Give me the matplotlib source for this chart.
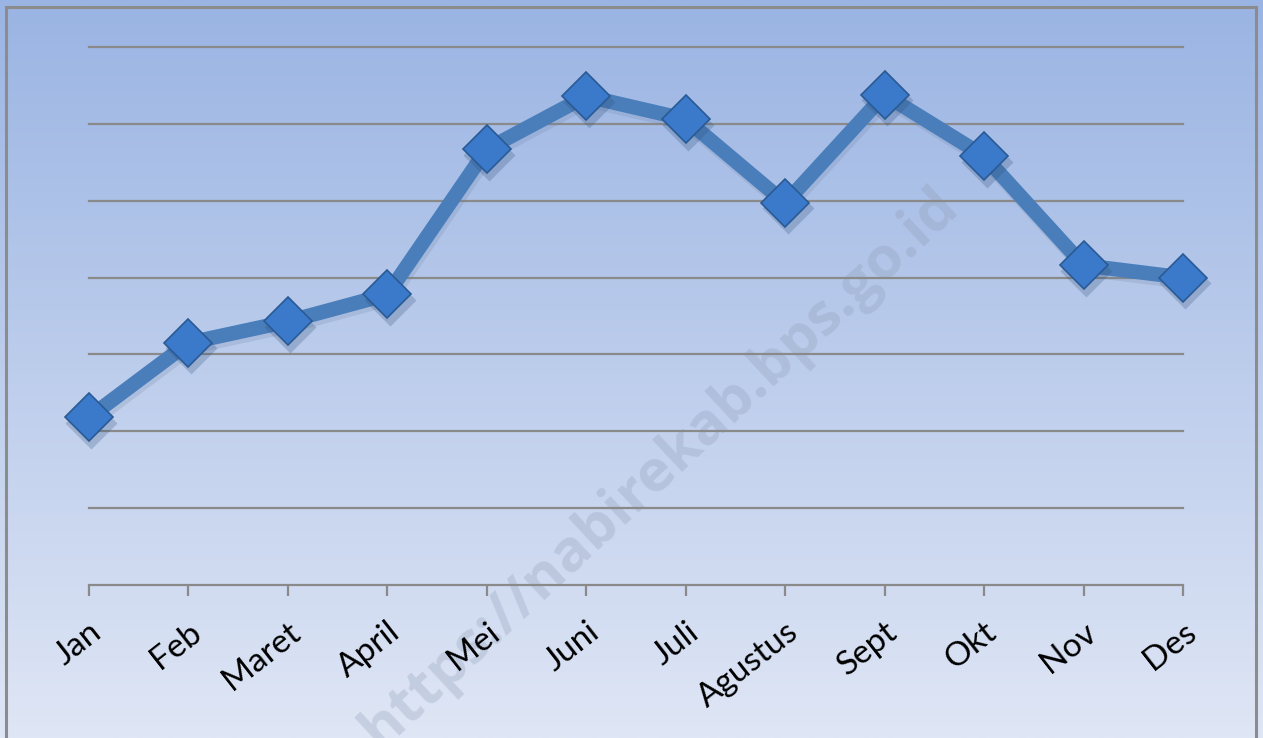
import numpy as np
import matplotlib
matplotlib.use("Agg")
import matplotlib.pyplot as plt
from matplotlib.patches import Rectangle

months = ["Jan", "Feb", "Maret", "April", "Mei", "Juni", "Juli", "Agustus", "Sept", "Okt", "Nov", "Des"]
values = [2.18, 3.15, 3.43, 3.78, 5.67, 6.36, 6.06, 4.97, 6.38, 5.58, 4.16, 4.00]
y_grid = [0, 1, 2, 3, 4, 5, 6, 7]
watermark = "https://nabirekab.bps.go.id"

W, H = 1263, 738
fig = plt.figure(figsize=(W / 100, H / 100), dpi=100)

# gradient background
bg = fig.add_axes([0, 0, 1, 1], zorder=0)
top = np.array([0x9a, 0xb4, 0xe3]) / 255
bot = np.array([0xdf, 0xe6, 0xf5]) / 255
t = np.linspace(0, 1, 256)[:, None]
grad = top[None, :] * (1 - t) + bot[None, :] * t
bg.imshow(grad[:, None, :], aspect="auto", extent=[0, 1, 0, 1], origin="upper")
bg.set_xlim(0, 1); bg.set_ylim(0, 1)
bg.axis("off")
bg.add_patch(Rectangle((6 / W, -0.01), (W - 7 - 6) / W, 1 - 7 / H + 0.01, fill=False,
                       edgecolor="#8c8c8c", linewidth=2.2, transform=bg.transAxes))

left, right = 89 / W, 1183 / W
bottom, topy = 1 - 585 / H, 1 - 47 / H
ax = fig.add_axes([left, bottom, right - left, topy - bottom], zorder=2)
ax.patch.set_alpha(0)
x = np.arange(len(months))
v = np.array(values)

for g in y_grid[1:]:
    ax.axhline(g, color="#8a8a8a", lw=1.6, zorder=1, clip_on=False)

# shadows
ax.plot(x + 0.02, v - 0.05, color="#6a7fa0", lw=11, alpha=0.2,
        solid_joinstyle="miter", zorder=2, clip_on=False)
ax.plot(x, v, color="#4a7ebb", lw=10.5, solid_joinstyle="miter", zorder=3, clip_on=False)
ax.plot(x + 0.025, v - 0.07, ls="none", marker="D", ms=26,
        mfc="#2f4f7a", mec="none", alpha=0.25, zorder=4, clip_on=False)
ax.plot(x, v, ls="none", marker="D", ms=24, mfc="#3b7acb", mec="#2a5a94",
        mew=1.2, zorder=5, clip_on=False)

ax.set_xlim(0, 11)
ax.set_ylim(0, 7)
for s in ["top", "right", "left"]:
    ax.spines[s].set_visible(False)
ax.spines["bottom"].set_color("#8a8a8a")
ax.spines["bottom"].set_linewidth(1.6)
ax.set_yticks([])
ax.set_xticks(x)
ax.set_xticklabels(months, rotation=38, ha="right", rotation_mode="anchor",
                   fontsize=24, family=["Lato", "DejaVu Sans"])
ax.tick_params(axis="x", length=8, width=1.6, color="#8a8a8a", pad=15)

fig.text(660 / W, 1 - 468 / H, watermark, rotation=43, ha="center", va="center",
         fontsize=42, fontweight="bold", color="#8a98b0", alpha=0.28,
         family=["Open Sans", "DejaVu Sans"], zorder=1)

fig.savefig("out.png", dpi=100)
